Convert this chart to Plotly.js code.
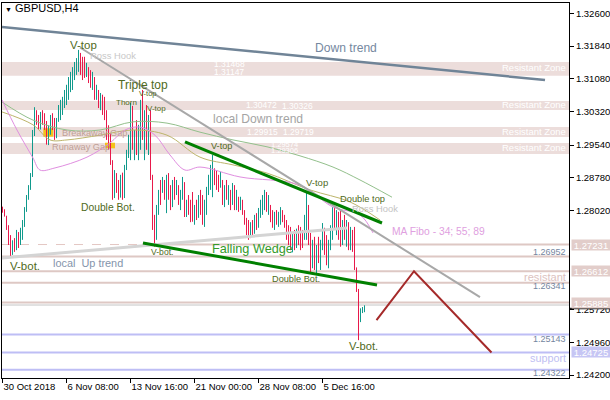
<!DOCTYPE html>
<html><head><meta charset="utf-8">
<script src="https://cdn.plot.ly/plotly-3.0.1.min.js"></script>
<style>html,body{margin:0;padding:0;background:#fff;}#chart{width:610px;height:400px;}</style>
</head><body><div id="chart"></div>
<script>
// ---------- candle data (H4 bars, index 0 = 30 Oct 2018 00:00) ----------
const open = [1.2808,1.2800,1.2790,1.2762,1.2728,1.2705,1.2725,1.2712,1.2750,1.2728,1.2755,1.2775,1.2805,1.2832,1.2855,1.2885,1.2980,1.3030,1.3010,1.2995,
1.3025,1.3005,1.2995,1.2965,1.2990,1.3015,1.2995,1.2975,1.3010,1.3040,1.3040,1.3062,1.3075,1.3070,1.3095,1.3090,1.3110,1.3125,1.3130,1.3165,
1.3140,1.3150,1.3115,1.3135,1.3105,1.3090,1.3110,1.3065,1.3080,1.3045,1.3060,1.3030,1.3020,1.2975,1.2960,1.2915,1.2840,1.2885,1.2850,1.2835,
1.2870,1.2840,1.2900,1.2935,1.2935,1.3040,1.2960,1.2975,1.2940,1.2990,1.3050,1.2975,1.3025,1.2960,1.3015,1.2885,1.2770,1.2735,1.2800,1.2840,
1.2845,1.2870,1.2835,1.2875,1.2845,1.2815,1.2865,1.2840,1.2860,1.2825,1.2840,1.2865,1.2795,1.2815,1.2800,1.2835,1.2782,1.2810,1.2790,1.2830,
1.2800,1.2785,1.2810,1.2845,1.2875,1.2840,1.2895,1.2880,1.2860,1.2855,1.2870,1.2825,1.2855,1.2835,1.2850,1.2815,1.2860,1.2810,1.2830,1.2805,
1.2825,1.2800,1.2775,1.2755,1.2740,1.2765,1.2750,1.2785,1.2765,1.2800,1.2815,1.2825,1.2845,1.2810,1.2815,1.2785,1.2775,1.2795,1.2780,1.2785,
1.2800,1.2780,1.2770,1.2745,1.2755,1.2720,1.2740,1.2720,1.2750,1.2740,1.2750,1.2735,1.2745,1.2815,1.2745,1.2680,1.2730,1.2690,1.2735,1.2690,
1.2720,1.2760,1.2710,1.2700,1.2720,1.2745,1.2800,1.2765,1.2795,1.2790,1.2730,1.2780,1.2745,1.2760,1.2725,1.2750,1.2715,1.2670,1.2620,1.2545,
1.2566,1.2568];
const high = [1.2811,1.2805,1.2790,1.2768,1.2745,1.2733,1.2738,1.2757,1.2752,1.2762,1.2780,1.2810,1.2838,1.2861,1.2889,1.2989,1.3042,1.3035,1.3024,1.3031,
1.3035,1.3028,1.3010,1.3000,1.3024,1.3028,1.3017,1.3017,1.3047,1.3059,1.3066,1.3082,1.3094,1.3112,1.3124,1.3135,1.3147,1.3156,1.3175,1.3168,
1.3159,1.3159,1.3145,1.3135,1.3128,1.3124,1.3112,1.3094,1.3082,1.3075,1.3071,1.3066,1.3035,1.3000,1.2982,1.2919,1.2896,1.2889,1.2873,1.2885,
1.2890,1.2908,1.2943,1.2978,1.3052,1.3045,1.2989,1.3012,1.3001,1.3059,1.3082,1.3035,1.3047,1.3024,1.3035,1.2885,1.2792,1.2815,1.2850,1.2873,
1.2880,1.2873,1.2885,1.2889,1.2861,1.2873,1.2880,1.2873,1.2861,1.2850,1.2880,1.2868,1.2827,1.2838,1.2827,1.2845,1.2815,1.2827,1.2838,1.2850,
1.2838,1.2827,1.2857,1.2885,1.2908,1.2931,1.2900,1.2896,1.2885,1.2892,1.2873,1.2861,1.2873,1.2861,1.2850,1.2866,1.2861,1.2850,1.2834,1.2834,
1.2827,1.2803,1.2785,1.2780,1.2775,1.2780,1.2792,1.2796,1.2808,1.2827,1.2838,1.2850,1.2845,1.2838,1.2815,1.2803,1.2799,1.2803,1.2799,1.2810,
1.2803,1.2792,1.2780,1.2768,1.2764,1.2750,1.2757,1.2760,1.2768,1.2764,1.2757,1.2792,1.2845,1.2815,1.2750,1.2734,1.2741,1.2722,1.2741,1.2734,
1.2773,1.2762,1.2745,1.2734,1.2768,1.2810,1.2810,1.2803,1.2799,1.2803,1.2780,1.2792,1.2780,1.2775,1.2764,1.2757,1.2764,1.2670,1.2620,1.2575,
1.2578,1.2582];
const low = [1.2797,1.2788,1.2757,1.2722,1.2694,1.2699,1.2706,1.2710,1.2715,1.2722,1.2734,1.2764,1.2799,1.2827,1.2850,1.2880,1.2975,1.3001,1.2989,1.2990,
1.3001,1.2989,1.2955,1.2954,1.2978,1.2989,1.2966,1.2970,1.3008,1.3012,1.3024,1.3040,1.3047,1.3059,1.3077,1.3082,1.3105,1.3117,1.3124,1.3117,
1.3105,1.3110,1.3112,1.3098,1.3087,1.3082,1.3059,1.3059,1.3040,1.3035,1.3024,1.3012,1.2966,1.2943,1.2908,1.2827,1.2831,1.2843,1.2827,1.2832,
1.2827,1.2831,1.2896,1.2924,1.2919,1.2943,1.2919,1.2931,1.2919,1.2943,1.2966,1.2919,1.2943,1.2931,1.2873,1.2757,1.2718,1.2734,1.2792,1.2815,
1.2843,1.2827,1.2796,1.2827,1.2803,1.2810,1.2827,1.2838,1.2815,1.2803,1.2827,1.2787,1.2787,1.2792,1.2775,1.2776,1.2769,1.2780,1.2785,1.2792,
1.2769,1.2764,1.2792,1.2838,1.2850,1.2833,1.2861,1.2850,1.2845,1.2855,1.2815,1.2810,1.2827,1.2815,1.2803,1.2815,1.2803,1.2803,1.2799,1.2803,
1.2792,1.2769,1.2745,1.2734,1.2738,1.2745,1.2748,1.2757,1.2762,1.2785,1.2792,1.2803,1.2799,1.2792,1.2775,1.2762,1.2757,1.2769,1.2764,1.2769,
1.2775,1.2762,1.2734,1.2722,1.2710,1.2705,1.2710,1.2715,1.2722,1.2710,1.2715,1.2734,1.2734,1.2722,1.2657,1.2668,1.2664,1.2652,1.2680,1.2664,
1.2710,1.2699,1.2675,1.2668,1.2710,1.2734,1.2757,1.2745,1.2734,1.2718,1.2722,1.2734,1.2718,1.2710,1.2710,1.2706,1.2664,1.2613,1.2501,1.2543,
1.2564,1.2566];
const close = [1.2800,1.2792,1.2762,1.2728,1.2705,1.2725,1.2712,1.2750,1.2728,1.2755,1.2775,1.2805,1.2832,1.2855,1.2885,1.2980,1.3030,1.3010,1.2995,1.3025,
1.3005,1.2995,1.2965,1.2990,1.3015,1.2995,1.2975,1.3010,1.3040,1.3050,1.3062,1.3075,1.3088,1.3105,1.3115,1.3128,1.3140,1.3150,1.3168,1.3135,
1.3110,1.3115,1.3140,1.3105,1.3095,1.3115,1.3065,1.3085,1.3045,1.3060,1.3030,1.3020,1.2975,1.2955,1.2915,1.2840,1.2885,1.2850,1.2835,1.2875,
1.2840,1.2900,1.2935,1.2970,1.3040,1.2960,1.2975,1.2940,1.2990,1.3050,1.2975,1.3025,1.2960,1.3015,1.2885,1.2770,1.2735,1.2800,1.2840,1.2825,
1.2875,1.2835,1.2875,1.2845,1.2815,1.2865,1.2840,1.2868,1.2825,1.2840,1.2872,1.2795,1.2815,1.2800,1.2785,1.2782,1.2790,1.2790,1.2830,1.2800,
1.2785,1.2810,1.2845,1.2880,1.2900,1.2925,1.2870,1.2855,1.2850,1.2885,1.2825,1.2855,1.2835,1.2850,1.2815,1.2860,1.2810,1.2835,1.2805,1.2825,
1.2800,1.2775,1.2755,1.2740,1.2765,1.2750,1.2785,1.2765,1.2800,1.2820,1.2830,1.2845,1.2810,1.2830,1.2785,1.2770,1.2795,1.2780,1.2790,1.2805,
1.2780,1.2770,1.2745,1.2730,1.2720,1.2740,1.2720,1.2750,1.2730,1.2720,1.2725,1.2785,1.2830,1.2735,1.2680,1.2720,1.2685,1.2705,1.2690,1.2725,
1.2765,1.2710,1.2700,1.2725,1.2760,1.2800,1.2770,1.2795,1.2745,1.2730,1.2765,1.2745,1.2760,1.2725,1.2750,1.2715,1.2670,1.2620,1.2535,1.2570,
1.2575,1.2578];
const barIndex = open.map((_, i) => i);

// ---------- axis ticks ----------
const dateTickIdx = [0, 32, 64, 96, 128, 160];
const dateTickText = ['30 Oct 2018', '6 Nov 08:00', '13 Nov 16:00', '21 Nov 00:00', '28 Nov 08:00', '5 Dec 16:00'];
const priceTickVals = [1.326, 1.3184, 1.3108, 1.3032, 1.2954, 1.2878, 1.2802, 1.2572, 1.2496, 1.242];
const priceTickText = ['1.32600','1.31840','1.31080','1.30320','1.29540','1.28780','1.28020','1.25720','1.24960','1.24200'];

// ---------- moving averages (MA Fibo 34/55/89), read at sample bars ----------
const maGreenX = [-0.25, 15.25, 32.25, 48.75, 65.25, 82.25, 98.75, 115.25, 132.25, 148.75, 165.25, 178.75, 194.75];
const maGreenY = [1.3054, 1.3012, 1.2989, 1.2989, 1.3008, 1.3005, 1.2984, 1.2966, 1.2950, 1.2929, 1.2903, 1.2873, 1.2833];
const maKhakiX = [-0.25, 15.25, 23.75, 32.25, 48.75, 65.25, 82.25, 98.75, 115.25, 132.25, 153.75, 173.75, 188.75];
const maKhakiY = [1.3031, 1.3001, 1.2966, 1.2966, 1.2977, 1.2989, 1.2977, 1.2926, 1.2908, 1.2889, 1.2850, 1.2822, 1.2780];
const maPinkX = [-0.25, 7.25, 15.25, 18.75, 26.25, 42.25, 53.75, 61.25, 68.75, 76.25, 83.75, 91.25, 98.75, 118.75, 148.75, 165.25, 178.75, 185.25];
const maPinkY = [1.3059, 1.2989, 1.2924, 1.2896, 1.2901, 1.2926, 1.2959, 1.2989, 1.2996, 1.2977, 1.2931, 1.2896, 1.2903, 1.2880, 1.2861, 1.2810, 1.2792, 1.2750];

// ---------- trend lines ----------
const downTrendX = [-0.25, 271.25];   const downTrendY = [1.32282, 1.31051];
const localDownX = [38.75, 238.75];   const localDownY = [1.31806, 1.26012];
const localUpX = [-0.25, 172.25];     const localUpY = [1.26918, 1.27615];
const wedgeTopX = [91.25, 189.75];    const wedgeTopY = [1.29612, 1.27731];
const wedgeBotX = [70.25, 187.25];    const wedgeBotY = [1.27267, 1.26291];
const projX = [187.0, 205.75, 244.5]; const projY = [1.25478, 1.26612, 1.24725];

// ---------- levels & zones ----------
const zoneLo = [1.31147, 1.30355, 1.29728, 1.29332];
const zoneHi = [1.31468, 1.30565, 1.29960, 1.29588];
const zoneLabelY = [1.31330, 1.30482, 1.29844, 1.29484];
const resistLevels = [1.26952, 1.26612, 1.26341, 1.25885];
const dashedLevel = 1.27231;
const dashedEndIdx = 70;
const grayLevel = 1.25827;
const supportLevels = [1.25143, 1.24725, 1.24322];
const gapBoxX0 = [20.4, 51.25]; const gapBoxX1 = [25.4, 56.25];
const gapBoxY0 = [1.29735, 1.29465]; const gapBoxY1 = [1.29930, 1.29595];
const axisBoxPrices = [1.27231, 1.26612, 1.25885, 1.24725];
const axisBoxColors = ['#e2cdca', '#e2cdca', '#e2cdca', '#c6c6f4'];
const bidBarPrices = [1.25727, 1.25764];

const FONT = 'Liberation Sans, Arial, sans-serif';
const OLIVE = '#4f6a22';

const traces = [
  {type:'scatter', mode:'lines', x:maGreenX, y:maGreenY, line:{color:'#93c08c', width:1, shape:'spline'}, hoverinfo:'skip'},
  {type:'scatter', mode:'lines', x:maKhakiX, y:maKhakiY, line:{color:'#bdb56b', width:1, shape:'spline'}, hoverinfo:'skip'},
  {type:'scatter', mode:'lines', x:maPinkX, y:maPinkY, line:{color:'#e08ee0', width:1, shape:'spline'}, hoverinfo:'skip'},
  {type:'ohlc', x:barIndex, open:open, high:high, low:low, close:close, tickwidth:0,
   increasing:{line:{color:'#109a8c', width:1}}, decreasing:{line:{color:'#e8194b', width:1}}, hoverinfo:'skip'},
  {type:'scatter', mode:'lines', x:localUpX, y:localUpY, line:{color:'#d4d4d4', width:3}, hoverinfo:'skip'},
  {type:'scatter', mode:'lines', x:downTrendX, y:downTrendY, line:{color:'#708497', width:2.5}, hoverinfo:'skip'},
  {type:'scatter', mode:'lines', x:localDownX, y:localDownY, line:{color:'#a8a8a8', width:2}, hoverinfo:'skip'},
  {type:'scatter', mode:'lines', x:wedgeTopX, y:wedgeTopY, line:{color:'#008000', width:3}, hoverinfo:'skip'},
  {type:'scatter', mode:'lines', x:wedgeBotX, y:wedgeBotY, line:{color:'#008000', width:3}, hoverinfo:'skip'},
  {type:'scatter', mode:'lines', x:projX, y:projY, line:{color:'#a52a2a', width:2}, hoverinfo:'skip'}
];

const shapes = [];
zoneLo.forEach((lo, k) => shapes.push({type:'rect', xref:'paper', yref:'y', x0:0, x1:1, y0:lo, y1:zoneHi[k], fillcolor:'#ecdddb', line:{width:0}, layer:'below'}));
resistLevels.forEach(p => shapes.push({type:'line', xref:'paper', yref:'y', x0:0, x1:1, y0:p, y1:p, line:{color:'#dec8c4', width:2}, layer:'below'}));
shapes.push({type:'line', xref:'x', yref:'y', x0:-0.25, x1:dashedEndIdx, y0:dashedLevel, y1:dashedLevel, line:{color:'#e4c8c4', width:1, dash:'dash'}, layer:'below'});
shapes.push({type:'line', xref:'x', yref:'y', x0:dashedEndIdx, x1:283.25, y0:dashedLevel, y1:dashedLevel, line:{color:'#dec8c4', width:2}, layer:'below'});
shapes.push({type:'line', xref:'paper', yref:'y', x0:0, x1:1, y0:grayLevel, y1:grayLevel, line:{color:'#c4c4c4', width:1}, layer:'below'});
supportLevels.forEach(p => shapes.push({type:'line', xref:'paper', yref:'y', x0:0, x1:1, y0:p, y1:p, line:{color:'#bebef5', width:2}, layer:'below'}));
gapBoxX0.forEach((x0, k) => shapes.push({type:'rect', xref:'x', yref:'y', x0:x0, x1:gapBoxX1[k], y0:gapBoxY0[k], y1:gapBoxY1[k], fillcolor:'#f4c21a', line:{width:0}, layer:'below'}));
shapes.push({type:'rect', xref:'paper', yref:'y', x0:1.002, x1:1.072, y0:bidBarPrices[0], y1:bidBarPrices[1], fillcolor:'#000', line:{width:0}, layer:'above'});

function lab(text, x, y, size, color, xanchor) {
  return {text:text, x:x, y:y, xref:'x', yref:'y', showarrow:false, xanchor:xanchor||'center', yanchor:'middle',
          font:{family:FONT, size:size, color:color}};
}
function rlab(text, y, size, color) {
  return {text:text, x:0.998, y:y, xref:'paper', yref:'y', showarrow:false, xanchor:'right', yanchor:'middle',
          font:{family:FONT, size:size, color:color}};
}
const annotations = [
  {text:'<span style="font-size:7px">▼</span> GBPUSD,H4', x:0.002, y:0.987, xref:'paper', yref:'paper', xanchor:'left', yanchor:'middle', showarrow:false, font:{family:FONT, size:11, color:'#000'}},
  lab('V-top', 40.5, 1.31864, 11.5, OLIVE),
  lab('Ross Hook', 55.25, 1.31609, 9.4, '#c8c8c8'),
  lab('Triple top', 70.25, 1.30930, 12, OLIVE),
  lab('V-top', 72.5, 1.30745, 7.5, OLIVE),
  lab('Thorn', 61.75, 1.30540, 8, OLIVE),
  lab('V-top', 76.75, 1.30378, 8, OLIVE),
  lab('Breakaway Gap', 46, 1.29821, 9.2, '#bf9f96'),
  lab('Runaway Gap', 39.25, 1.29507, 9.2, '#bf9f96'),
  lab('Double Bot.', 52.75, 1.28102, 10.3, OLIVE),
  lab('V-bot.', 11, 1.26732, 11.5, OLIVE),
  lab('local  Up trend', 42.75, 1.26802, 10.9, '#8494ab'),
  lab('V-bot.', 79.5, 1.27057, 8.6, OLIVE),
  lab('Falling Wedge', 125, 1.27127, 12.7, '#349a2a'),
  lab('V-top', 109.25, 1.29519, 9.2, OLIVE),
  lab('V-top', 157, 1.28660, 9.5, OLIVE),
  lab('Double top', 180, 1.28288, 9.3, OLIVE),
  lab('Ross Hook', 186.25, 1.28067, 9.4, '#c4c4c4'),
  lab('MA Fibo - 34; 55; 89', 217.75, 1.27545, 10.3, '#e0a0e0'),
  lab('Down trend', 171.75, 1.31783, 12.1, '#7588a0'),
  lab('local Down trend', 127.75, 1.30157, 12.1, '#a4a4a4'),
  lab('Double Bot.', 146.75, 1.26442, 9.2, OLIVE),
  lab('V-bot.', 180.25, 1.24875, 11.2, OLIVE),
  lab('1.31468', 113.25, 1.31430, 8.5, '#ffffff'),
  lab('1.31147', 113.25, 1.31230, 8.5, '#ffffff'),
  lab('1.30472', 129.25, 1.30471, 8.5, '#ffffff'),
  lab('1.30326', 147.25, 1.30436, 8.5, '#ffffff'),
  lab('1.29915', 130, 1.29844, 8.5, '#ffffff'),
  lab('1.29719', 148, 1.29844, 8.5, '#ffffff'),
  lab('1.29574', 140.75, 1.29550, 7.5, '#ffffff'),
  lab('1.29306', 140.75, 1.29405, 7.5, '#ffffff'),
  rlab('1.26952', 1.27057, 9, '#7586a0'),
  rlab('resistant', 1.26477, 11.1, '#dcc2c0'),
  rlab('1.26341', 1.26268, 9, '#7586a0'),
  rlab('1.25143', 1.25037, 9, '#7586a0'),
  rlab('support', 1.24608, 10.8, '#c0c0f2'),
  rlab('1.24322', 1.24248, 9, '#7586a0')
];
zoneLabelY.forEach(y => annotations.push(rlab('Resistant Zone', y, 9.5, '#ffffff')));
axisBoxPrices.forEach((p, k) => annotations.push({text:p.toFixed(5), x:1.0035, y:p, xref:'paper', yref:'y', xanchor:'left', yanchor:'middle',
  showarrow:false, width:38, height:10, bgcolor:axisBoxColors[k], borderpad:0, font:{family:FONT, size:9.5, color:'#ffffff'}}));

const layout = {
  width:610, height:400,
  margin:{l:2, r:41, t:3, b:22, pad:0},
  paper_bgcolor:'#ffffff', plot_bgcolor:'#ffffff',
  showlegend:false,
  xaxis:{range:[-0.25, 283.25], tickvals:dateTickIdx, ticktext:dateTickText, ticks:'outside', ticklen:4, tickcolor:'#000',
         showline:true, linecolor:'#000', linewidth:1, mirror:true, showgrid:false, zeroline:false, tickangle:0,
         ticklabelposition:'outside right', tickfont:{family:FONT, size:9.5, color:'#000'}, rangeslider:{visible:false}, fixedrange:true},
  yaxis:{side:'right', range:[1.24132, 1.32839], tickvals:priceTickVals, ticktext:priceTickText, ticks:'outside', ticklen:4, tickcolor:'#000',
         showline:true, linecolor:'#000', linewidth:1, mirror:true, showgrid:false, zeroline:false,
         tickfont:{family:FONT, size:9.5, color:'#000'}, fixedrange:true},
  shapes:shapes,
  annotations:annotations
};
Plotly.newPlot('chart', traces, layout, {staticPlot:true, displayModeBar:false});
</script>
</body></html>
